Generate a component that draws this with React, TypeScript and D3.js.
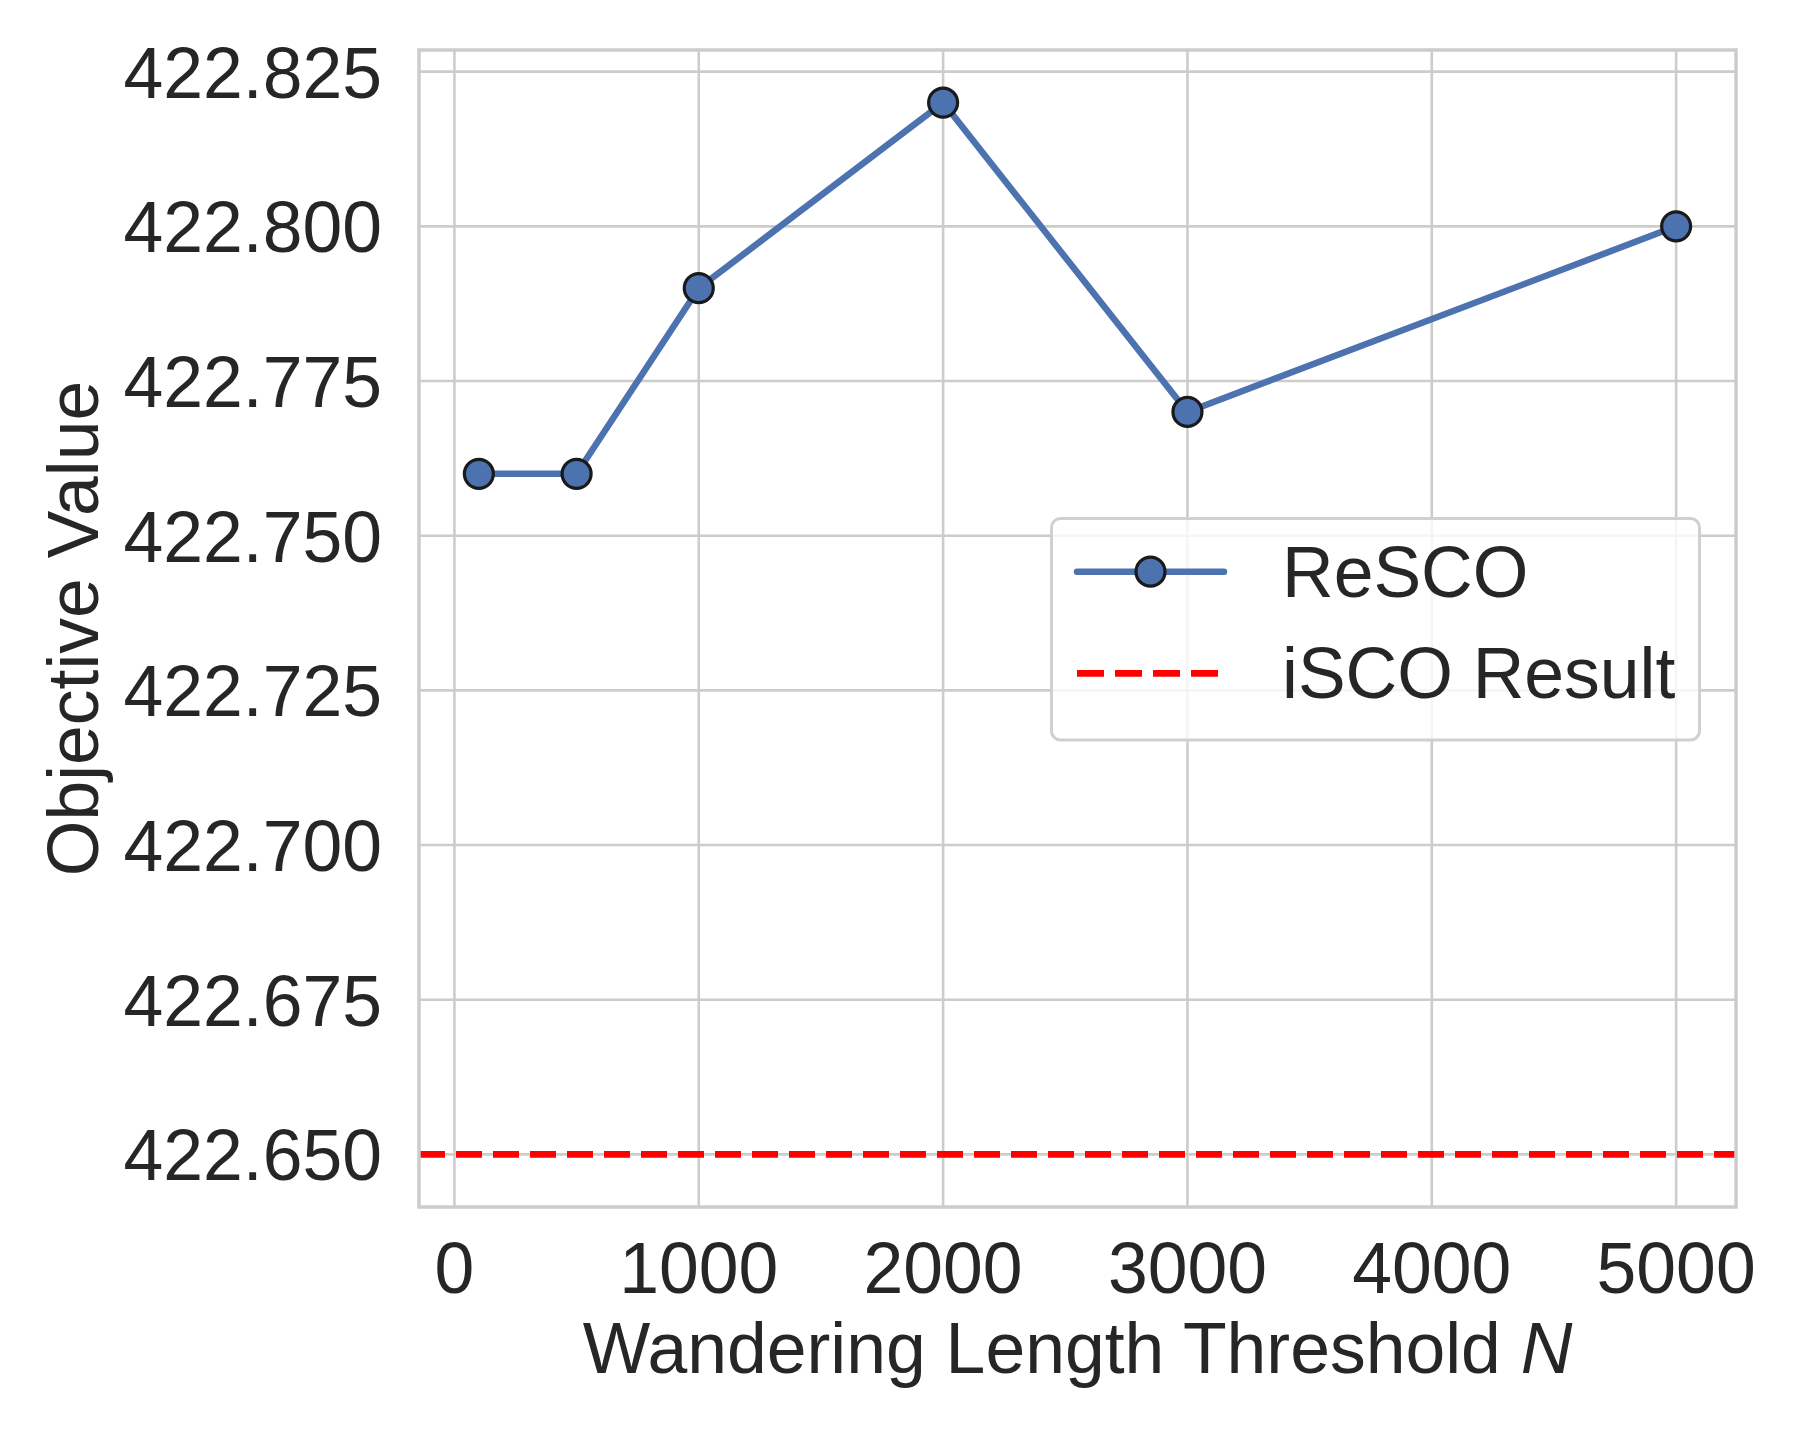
import React from "react";
import * as d3 from "d3";

const xValues = [100, 500, 1000, 2000, 3000, 5000];
const rescoValues = [422.76, 422.76, 422.79, 422.82, 422.77, 422.8];
const iscoValue = 422.65;
const xTicks = [0, 1000, 2000, 3000, 4000, 5000];
const yTicks = [422.65, 422.675, 422.7, 422.725, 422.75, 422.775, 422.8, 422.825];
const seriesNames = ["ReSCO", "iSCO Result"];

const W = 1799;
const H = 1439;
const L = 419, R = 1736, T = 50, B = 1207;
const FONT = "'Liberation Sans', Arial, sans-serif";
const FS = 71.5;
const TEXT = "#262626";
const GRID = "#cccccc";
const BLUE = "#4c72b0";

export default function App() {
  const x = d3.scaleLinear().domain([-145, 5245]).range([L, R]);
  const y = d3.scaleLinear().domain([422.6415, 422.8285]).range([B, T]);
  const pts = xValues.map((v, i) => [x(v), y(rescoValues[i])] as [number, number]);
  const line = d3.line()(pts) || "";
  const lx0 = 1077, lx1 = 1224;
  return (
    <svg width={W} height={H} style={{ position: "absolute", left: 0, top: 0, background: "#fff" }}>
      <rect x={0} y={0} width={W} height={H} fill="#fff" />
      <defs>
        <clipPath id="plot">
          <rect x={L} y={T} width={R - L} height={B - T} />
        </clipPath>
      </defs>
      {xTicks.map((t) => (
        <line key={"gx" + t} x1={x(t)} x2={x(t)} y1={T} y2={B} stroke={GRID} strokeWidth={2.6} />
      ))}
      {yTicks.map((t) => (
        <line key={"gy" + t} x1={L} x2={R} y1={y(t)} y2={y(t)} stroke={GRID} strokeWidth={2.6} />
      ))}
      <g clipPath="url(#plot)">
        <line x1={L} x2={R} y1={y(iscoValue)} y2={y(iscoValue)} stroke="#ff0000" strokeWidth={6.8} strokeDasharray="26,11" />
        <path d={line} fill="none" stroke={BLUE} strokeWidth={6.5} strokeLinejoin="round" strokeLinecap="round" />
        {pts.map((p, i) => (
          <circle key={i} cx={p[0]} cy={p[1]} r={14.5} fill={BLUE} stroke="#1a1a1a" strokeWidth={3.2} />
        ))}
      </g>
      <rect x={L} y={T} width={R - L} height={B - T} fill="none" stroke={GRID} strokeWidth={3.5} />
      {yTicks.map((t) => (
        <text key={"ty" + t} x={382} y={y(t) + 26} textAnchor="end" fontFamily={FONT} fontSize={FS} fill={TEXT}>
          {t.toFixed(3)}
        </text>
      ))}
      {xTicks.map((t) => (
        <text key={"tx" + t} x={x(t)} y={1293} textAnchor="middle" fontFamily={FONT} fontSize={FS} fill={TEXT}>
          {t}
        </text>
      ))}
      <text x={(L + R) / 2} y={1373} textAnchor="middle" fontFamily={FONT} fontSize={FS} fill={TEXT}>
        Wandering Length Threshold <tspan fontStyle="italic">N</tspan>
      </text>
      <text transform={`translate(98,${(T + B) / 2}) rotate(-90)`} textAnchor="middle" fontFamily={FONT} fontSize={FS} fill={TEXT}>
        Objective Value
      </text>
      <rect x={1051.5} y={518.5} width={648} height={221.5} rx={9} fill="#fff" fillOpacity={0.8} stroke="#d0d0d0" strokeWidth={3} />
      <line x1={lx0} x2={lx1} y1={571.7} y2={571.7} stroke={BLUE} strokeWidth={6.5} strokeLinecap="round" />
      <circle cx={(lx0 + lx1) / 2} cy={571.7} r={14.5} fill={BLUE} stroke="#1a1a1a" strokeWidth={3.2} />
      <line x1={lx0} x2={lx1} y1={673.3} y2={673.3} stroke="#ff0000" strokeWidth={6.8} strokeDasharray="27,11" />
      <text x={1282} y={596.7} fontFamily={FONT} fontSize={FS} fill={TEXT}>{seriesNames[0]}</text>
      <text x={1282} y={698} fontFamily={FONT} fontSize={FS} fill={TEXT}>{seriesNames[1]}</text>
    </svg>
  );
}
